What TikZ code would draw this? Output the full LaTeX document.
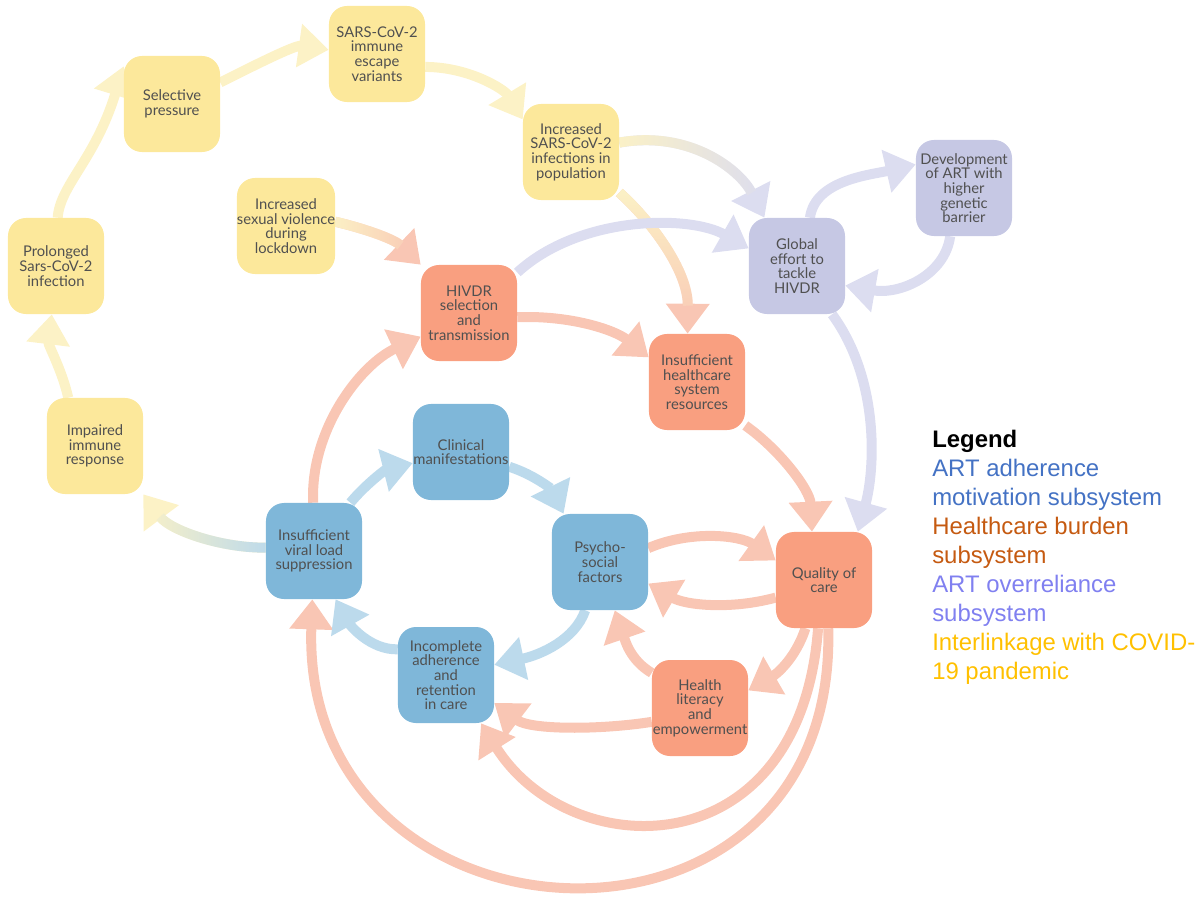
\documentclass[tikz,border=0pt]{standalone}
\usepackage{fontspec}
\setmainfont{Lato}
\newfontfamily\legfont{Liberation Sans}
\usetikzlibrary{arrows.meta,fadings,backgrounds}
\definecolor{boxY}{HTML}{FCE89B}
\definecolor{boxS}{HTML}{F99F80}
\definecolor{boxB}{HTML}{7FB7D9}
\definecolor{boxP}{HTML}{C6C8E4}
\definecolor{arY}{HTML}{FCF2C6}
\definecolor{arS}{HTML}{F9C6B4}
\definecolor{arB}{HTML}{BCDAEC}
\definecolor{arP}{HTML}{DCDDF0}
\definecolor{txt}{HTML}{505050}
\definecolor{legB}{HTML}{4472C4}
\definecolor{legO}{HTML}{C55A11}
\definecolor{legP}{HTML}{8080F0}
\definecolor{legY}{HTML}{FFC000}
\begin{document}
\begin{tikzpicture}[x=0.025cm,y=-0.025cm,
  nbox/.style={rounded corners=0.45cm, minimum width=2.4cm, minimum height=2.4cm,
    inner sep=0pt, align=center, text=txt, font=\fontsize{10.5}{10.4}\selectfont},
  ybox/.style={nbox,fill=boxY},
  sbox/.style={nbox,fill=boxS},
  bbox/.style={nbox,fill=boxB},
  pbox/.style={nbox,fill=boxP},
  conn/.style={line width=0.25cm, -{Triangle[width=1.05cm,length=0.75cm]}},
  ya/.style={conn,draw=arY},
  sa/.style={conn,draw=arS},
  ba/.style={conn,draw=arB},
  pa/.style={conn,draw=arP},
  fov/.style={line width=0.25cm, shorten >=0.7cm},
  leg/.style={anchor=base west, inner sep=0pt, font=\legfont\fontsize{17}{20}\selectfont}
]
\useasboundingbox (0,0) rectangle (1203,896);

% nodes
\node[ybox] (P) at (56,266) {Prolonged\\Sars-CoV-2\\infection};
\node[ybox] (S) at (172,104) {Selective\\pressure};
\node[ybox] (E) at (377,54) {SARS-CoV-2\\immune\\escape\\variants};
\node[ybox] (I) at (571,152) {Increased\\SARS-CoV-2\\infections in\\population};
\node[ybox] (V) at (286,226) {Increased\\sexual violence\\during\\lockdown};
\node[sbox] (H) at (469,313) {HIVDR\\selection\\and\\transmission};
\node[pbox] (G) at (797,266) {Global\\effort to\\tackle\\HIVDR};
\node[pbox] (D) at (964,188) {Development\\of ART with\\higher\\genetic\\barrier};
\node[sbox] (R) at (697,382) {Insufficient\\healthcare\\system\\resources};
\node[ybox] (M) at (95,446) {Impaired\\immune\\response};
\node[bbox] (C) at (461,452) {Clinical\\manifestations};
\node[bbox] (L) at (314,551) {Insufficient\\viral load\\suppression};
\node[bbox] (Y) at (600,562) {Psycho-\\social\\factors};
\node[sbox] (Q) at (824,580) {Quality of\\care};
\node[bbox] (A) at (446,675) {Incomplete\\adherence\\and\\retention\\in care};
\node[sbox] (T) at (700,708) {Health\\literacy\\and\\empowerment};

\begin{pgfonlayer}{background}
% yellow loop
\draw[ya] (M.119) .. controls (62,370) and (48,345) .. (P.265);
\draw[ya] (P.88) .. controls (60,185) and (95,160) .. (S.142);
\draw[ya] (S.24) .. controls (255,65) and (295,45) .. (E.175);
\draw[ya] (E.-15) .. controls (470,67) and (505,90) .. (I.146);
% gradient connectors
\draw[ya] (L.176) .. controls (220,548) and (170,530) .. (M.-45);
\draw[fov,draw=arB,path fading=west] (L.176) .. controls (220,548) and (170,530) .. (M.-45);
\draw[pa] (I.11) .. controls (690,130) and (740,170) .. (G.124);
\draw[fov,draw=arY,path fading=east] (I.11) .. controls (690,130) and (740,170) .. (G.124);
\draw[sa] (I.-40) .. controls (650,220) and (688,270) .. (R.101);
\draw[fov,draw=arY,path fading=south] (I.-40) .. controls (650,220) and (688,270) .. (R.101);
\draw[sa] (V.5) .. controls (370,230) and (395,240) .. (H.135);
\draw[fov,draw=arY,path fading=east] (V.5) .. controls (370,230) and (395,240) .. (H.135);
% purple
\draw[pa] (H.40) .. controls (580,215) and (690,215) .. (G.160);
\draw[pa] (G.75) .. controls (815,180) and (870,175) .. (D.154);
\draw[pa] (D.254) .. controls (945,275) and (900,295) .. (G.-22);
\draw[pa] (G.-54) .. controls (880,380) and (875,470) .. (Q.55);
% salmon
\draw[sa] (H.-5) .. controls (570,315) and (615,330) .. (R.153);
\draw[sa] (R.-42) .. controls (780,450) and (810,490) .. (Q.104);
\draw[sa] (L.91) .. controls (310,430) and (360,365) .. (H.206);
\draw[sa] (Y.16) .. controls (690,530) and (740,535) .. (Q.158);
\draw[sa] (Q.200) .. controls (730,610) and (685,605) .. (Y.-24);
\draw[sa] (Q.249) .. controls (795,660) and (775,675) .. (T.20);
\draw[sa] (T.144) .. controls (630,660) and (625,640) .. (Y.-73);
\draw[sa] (T.196) .. controls (600,730) and (530,730) .. (A.-30);
\draw[sa] (Q.263) .. controls (800,870) and (570,865) .. (A.-54);
\draw[sa] (Q.275) .. controls (838,990) and (300,960) .. (L.268);
% blue
\draw[ba] (L.53) .. controls (365,485) and (385,470) .. (C.193);
\draw[ba] (C.-17) .. controls (535,475) and (552,490) .. (Y.127);
\draw[ba] (Y.253) .. controls (575,640) and (540,655) .. (A.12);
\draw[ba] (A.152) .. controls (370,650) and (350,625) .. (L.-66);
\end{pgfonlayer}

% legend
\node[leg] (l1) at (932,447) {\bfseries Legend};
\node[leg,text=legB] (l2) at (932,476) {ART adherence};
\node[leg,text=legB] (l3) at (932,505) {motivation subsystem};
\node[leg,text=legO] (l4) at (932,534) {Healthcare burden};
\node[leg,text=legO] (l5) at (932,563) {subsystem};
\node[leg,text=legP] (l6) at (932,592) {ART overreliance};
\node[leg,text=legP] (l7) at (932,621) {subsystem};
\node[leg,text=legY] (l8) at (932,650) {Interlinkage with COVID-};
\node[leg,text=legY] (l9) at (932,679) {19 pandemic};
\end{tikzpicture}
\end{document}
